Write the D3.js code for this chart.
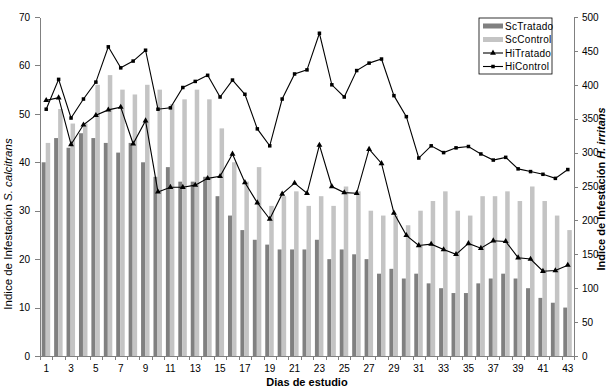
<!DOCTYPE html>
<html lang="es">
    <head>
        <meta charset="utf-8">
        <title>Indice de Infestación</title>
        <script src="https://d3js.org/d3.v7.min.js"></script>
        <style type="text/css">
            body {
              margin: 0;
              background: white;
            }
            text {
              font-family: "Liberation Sans", Arial, sans-serif;
              fill: #000;
            }
            .axis path,
            .axis line {
                stroke: #808080;
                shape-rendering: crispEdges;
            }
            .axis text {
                font-size: 10px;
            }
        </style>
    </head>
    <body>
        <div id="chart"></div>

        <script type="text/javascript">

        //DATA
            const dias = d3.range(1, 44);

            const scTratado = [40, 45, 43, 46, 45, 44, 42, 44, 40, 37,
                               39, 36, 36, 37, 33, 29, 26, 24, 23, 22,
                               22, 22, 24, 20, 22, 21, 20, 17, 18, 16,
                               17, 15, 14, 13, 13, 15, 16, 17, 16, 14,
                               12, 11, 10];

            const scControl = [44, 51, 48, 48, 56, 58, 55, 54, 56, 55,
                               52, 53, 55, 53, 47, 40, 36, 39, 31, 33,
                               34, 31, 33, 31, 35, 34, 30, 29, 29, 27,
                               30, 32, 34, 30, 29, 33, 33, 34, 32, 35,
                               32, 29, 26];

            const hiTratado = [377, 381, 312, 341, 355, 363, 367, 313, 347, 242,
                               249, 249, 252, 262, 265, 298, 256, 226, 202, 239,
                               255, 240, 311, 250, 241, 240, 305, 284, 211, 178,
                               163, 165, 157, 150, 166, 159, 170, 169, 145, 143,
                               125, 126, 134];

            const hiControl = [364, 408, 351, 379, 404, 456, 425, 435, 451, 364,
                               366, 396, 405, 414, 382, 407, 386, 335, 310, 379,
                               416, 422, 476, 400, 382, 421, 432, 438, 384, 353,
                               292, 310, 300, 307, 309, 298, 289, 293, 276, 272,
                               268, 262, 275];

            const leftTicks = [0, 10, 20, 30, 40, 50, 60, 70];
            const rightTicks = [0, 50, 100, 150, 200, 250, 300, 350, 400, 450, 500];
            const xLabels = dias.filter(d => d % 2 === 1);

        //CONSTANTS
            const w = 609;
            const h = 390;
            const plotLeft = 40;
            const plotRight = 574;
            const plotTop = 17;
            const plotBottom = 356;

            const svg = d3.select("#chart")
                    .append("svg")
                    .attr("width", w)
                    .attr("height", h);

        //SCALES
            const xScale = d3.scaleBand()
                            .domain(dias)
                            .range([plotLeft, plotRight]);

            const xTick = d3.scaleLinear()
                            .domain([0, dias.length])
                            .range([plotLeft, plotRight]);

            const yLeft = d3.scaleLinear()
                            .domain([0, 70])
                            .range([plotBottom, plotTop]);

            const yRight = d3.scaleLinear()
                            .domain([0, 500])
                            .range([plotBottom, plotTop]);

            const cx = d => xScale(d) + xScale.bandwidth() / 2;

        //BARS
            const barW = 4;

            svg.append("g").selectAll("rect")
                .data(dias)
                .enter()
                .append("rect")
                .attr("x", (d, i) => cx(d) - barW - 0.5)
                .attr("y", (d, i) => yLeft(scTratado[i]))
                .attr("width", barW)
                .attr("height", (d, i) => plotBottom - yLeft(scTratado[i]))
                .attr("fill", "#808080");

            svg.append("g").selectAll("rect")
                .data(dias)
                .enter()
                .append("rect")
                .attr("x", (d, i) => cx(d) - 0.5)
                .attr("y", (d, i) => yLeft(scControl[i]))
                .attr("width", barW + 0.5)
                .attr("height", (d, i) => plotBottom - yLeft(scControl[i]))
                .attr("fill", "#c4c4c4");

        //AXES
            const bottomTicks = d3.axisBottom(xTick)
                                .tickValues(d3.range(0, dias.length + 1))
                                .tickFormat("")
                                .tickSize(4)
                                .tickSizeOuter(0);

            svg.append("g")
                .attr("class", "axis")
                .attr("transform", "translate(0," + plotBottom + ")")
                .call(bottomTicks);

            const bottomLabels = d3.axisBottom(xScale)
                                .tickValues(xLabels)
                                .tickSize(0)
                                .tickPadding(9);

            svg.append("g")
                .attr("class", "axis labels")
                .attr("transform", "translate(0," + plotBottom + ")")
                .call(bottomLabels)
                .call(g => g.select(".domain").remove());

            const leftAxis = d3.axisLeft(yLeft)
                                .tickValues(leftTicks)
                                .tickSize(5)
                                .tickPadding(5)
                                .tickSizeOuter(0);

            svg.append("g")
                .attr("class", "axis")
                .attr("transform", "translate(" + plotLeft + ",0)")
                .call(leftAxis);

            const rightAxis = d3.axisRight(yRight)
                                .tickValues(rightTicks)
                                .tickSize(4)
                                .tickPadding(4)
                                .tickSizeOuter(0);

            svg.append("g")
                .attr("class", "axis")
                .attr("transform", "translate(" + plotRight + ",0)")
                .call(rightAxis);

        //LINES
            const line = d3.line()
                            .x((d, i) => cx(dias[i]))
                            .y(d => yRight(d));

            const triangle = d3.symbol().type(d3.symbolTriangle).size(15);

            function drawSeries(values, marker) {
                svg.append("path")
                    .datum(values)
                    .attr("d", line)
                    .attr("fill", "none")
                    .attr("stroke", "#000")
                    .attr("stroke-width", 1.1);

                const g = svg.append("g");
                if (marker === "tri") {
                    g.selectAll("path")
                        .data(values)
                        .enter()
                        .append("path")
                        .attr("d", triangle)
                        .attr("transform", (d, i) => "translate(" + cx(dias[i]) + "," + yRight(d) + ")")
                        .attr("fill", "#000");
                } else {
                    g.selectAll("rect")
                        .data(values)
                        .enter()
                        .append("rect")
                        .attr("x", (d, i) => cx(dias[i]) - 1.75)
                        .attr("y", d => yRight(d) - 1.75)
                        .attr("width", 3.5)
                        .attr("height", 3.5)
                        .attr("fill", "#000");
                }
            }

            drawSeries(hiTratado, "tri");
            drawSeries(hiControl, "sq");

        //AXIS TITLES
            svg.append("text")
                .attr("transform", "translate(12,224) rotate(-90)")
                .attr("text-anchor", "middle")
                .style("font-size", "11.5px")
                .html("Indice de Infestación <tspan font-style='italic'>S. calcitrans</tspan>");

            svg.append("text")
                .attr("transform", "translate(605,189) rotate(-90)")
                .attr("text-anchor", "middle")
                .style("font-size", "11px")
                .style("font-weight", "bold")
                .html("Indice de Infestación <tspan font-style='italic'>H. irritans</tspan>");

            svg.append("text")
                .attr("x", (plotLeft + plotRight) / 2)
                .attr("y", 386)
                .attr("text-anchor", "middle")
                .style("font-size", "11px")
                .style("font-weight", "bold")
                .text("Dias de estudio");

        //LEGEND
            const legendItems = ["ScTratado", "ScControl", "HiTratado", "HiControl"];
            const lx = 479;
            const ly = 18;

            svg.append("rect")
                .attr("x", lx)
                .attr("y", ly)
                .attr("width", 73)
                .attr("height", 56)
                .attr("fill", "white")
                .attr("stroke", "#000")
                .attr("stroke-width", 0.8);

            legendItems.forEach((name, i) => {
                const yy = ly + 8 + i * 13.5;
                if (i < 2) {
                    svg.append("rect")
                        .attr("x", lx + 4)
                        .attr("y", yy - 2.5)
                        .attr("width", 20)
                        .attr("height", 5)
                        .attr("fill", i === 0 ? "#808080" : "#c4c4c4");
                } else {
                    svg.append("line")
                        .attr("x1", lx + 4)
                        .attr("x2", lx + 24)
                        .attr("y1", yy)
                        .attr("y2", yy)
                        .attr("stroke", "#000")
                        .attr("stroke-width", 1.1);
                    if (i === 2) {
                        svg.append("path")
                            .attr("d", triangle)
                            .attr("transform", "translate(" + (lx + 14) + "," + yy + ")");
                    } else {
                        svg.append("rect")
                            .attr("x", lx + 12.25)
                            .attr("y", yy - 1.75)
                            .attr("width", 3.5)
                            .attr("height", 3.5);
                    }
                }
                svg.append("text")
                    .attr("x", lx + 26)
                    .attr("y", yy + 3.5)
                    .style("font-size", "10px")
                    .style("letter-spacing", "0.3px")
                    .text(name);
            });
        </script>
    </body>
</html>
